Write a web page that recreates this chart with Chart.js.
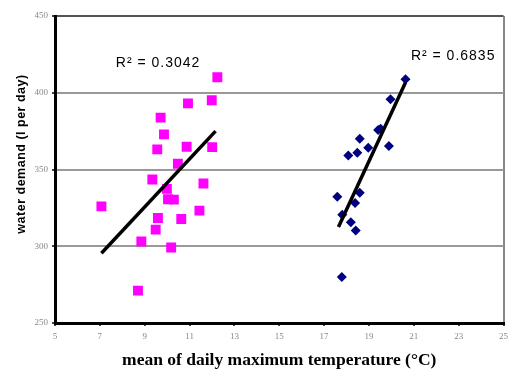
<!DOCTYPE html>
<html><head><meta charset="utf-8">
<script src="https://cdn.jsdelivr.net/npm/chart.js@4.4.1/dist/chart.umd.min.js"></script>
<style>html,body{margin:0;padding:0;background:#fff}#wrap{width:508px;height:371px}</style>
</head><body><div id="wrap"><canvas id="c" width="508" height="371"></canvas></div>
<script>
// Magenta squares (series 1)
const s1x = [12.24,10.93,11.99,9.71,9.86,9.56,10.87,12.01,10.48,9.34,11.62,9.99,10.30,10.04,7.07,11.44,9.59,10.63,9.49,8.85,10.18,8.70];
const s1y = [410.1,393.1,395.1,383.8,372.9,363.1,364.8,364.6,353.7,343.5,340.9,337.4,330.4,330.6,326.0,323.2,318.4,317.8,310.8,303.1,299.2,271.1];
// Blue diamonds (series 2)
const s2x = [20.63,19.96,19.52,19.41,19.89,18.59,18.97,18.48,18.08,17.59,18.59,18.38,17.81,18.19,18.41,17.79];
const s2y = [408.8,395.8,376.6,375.7,365.3,370.1,364.2,360.9,359.2,332.2,334.8,328.2,320.6,315.6,310.3,279.9];
// Trendline endpoints
const t1x = [7.07,12.16], t1y = [295.4,375.0];
const t2x = [17.64,20.63], t2y = [312.5,406.7];
// R² labels and anchors
const r2Labels = ['R\u00B2 = 0.3042','R\u00B2 = 0.6835'];
const r2AnchorX = [7.71,20.87], r2AnchorY = [419.6,423.9];
const xTicks = [5,7,9,11,13,15,17,19,21,23,25];
const yTicks = [250,300,350,400,450];

const pts = (xs,ys)=>xs.map((x,i)=>({x, y:ys[i]}));

const extra = {
  id:'extra',
  afterDraw(chart){
    const {ctx, chartArea:a, scales:{x,y}} = chart;
    ctx.save();
    // x tick labels
    ctx.font = '9px "Liberation Serif", serif';
    ctx.fillStyle = '#888';
    ctx.textAlign = 'center';
    ctx.textBaseline = 'middle';
    xTicks.forEach(v=>ctx.fillText(String(v), x.getPixelForValue(v), a.bottom + 14));
    // R² labels
    ctx.font = '14px "Liberation Sans", Arial, sans-serif';
    ctx.letterSpacing = '1px';
    ctx.fillStyle = '#000';
    ctx.textAlign = 'left';
    r2Labels.forEach((t,i)=>ctx.fillText(t, x.getPixelForValue(r2AnchorX[i]), y.getPixelForValue(r2AnchorY[i])));
    ctx.letterSpacing = '0px';
    // y title
    ctx.translate(22, 154);
    ctx.rotate(-Math.PI/2);
    ctx.textAlign='center';
    ctx.font = 'bold 12.5px "Liberation Sans", Arial, sans-serif';
    ctx.letterSpacing = '0.5px';
    ctx.fillText('water demand (l per day)', 0, 0);
    ctx.restore();
  }
};

new Chart(document.getElementById('c'), {
  type:'scatter',
  data:{datasets:[
    {data:pts(t1x,t1y), showLine:true, borderColor:'#000', borderWidth:3.5, pointRadius:0, order:0},
    {data:pts(t2x,t2y), showLine:true, borderColor:'#000', borderWidth:3.5, pointRadius:0, order:0},
    {data:pts(s1x,s1y), pointStyle:'rect', pointRadius:7, backgroundColor:'#FF00FF', borderColor:'#FF00FF', borderWidth:0, order:1},
    {data:pts(s2x,s2y), pointStyle:'rectRot', pointRadius:5, backgroundColor:'#000080', borderColor:'#000080', borderWidth:0, order:1}
  ]},
  options:{
    responsive:false, animation:false, devicePixelRatio:1,
    layout:{autoPadding:false, padding:{left:0,right:4.5,top:16,bottom:0}},
    plugins:{legend:{display:false}, tooltip:{enabled:false}},
    scales:{
      x:{type:'linear', min:5, max:25,
        afterBuildTicks:s=>{s.ticks = xTicks.map(v=>({value:v}));},
        afterFit:s=>{s.height=48;},
        border:{color:'#000', width:3},
        grid:{color:c=>c.tick && c.tick.value===25 ? '#888' : 'rgba(0,0,0,0)', lineWidth:2, tickColor:'#444', tickLength:3, drawOnChartArea:true},
        ticks:{display:false},
        title:{display:true, text:'mean of daily maximum temperature (\u00B0C)', color:'#000', font:{family:'"Liberation Serif", serif', size:17.5, weight:'bold'}, padding:{top:0,bottom:0}}
      },
      y:{type:'linear', min:250, max:450,
        afterBuildTicks:s=>{s.ticks = yTicks.map(v=>({value:v}));},
        afterFit:s=>{s.width=55; s.paddingTop=0; s.paddingBottom=0;},
        border:{color:'#000', width:3},
        grid:{color:c=>{const v=c.tick&&c.tick.value; return v===450?'#555':(v===250?'rgba(0,0,0,0)':'#999');}, lineWidth:2, tickColor:'#444', tickLength:3},
        ticks:{color:'#888', font:{family:'"Liberation Serif", serif', size:9}, padding:4, autoSkip:false}
      }
    }
  },
  plugins:[extra]
});
</script></body></html>
